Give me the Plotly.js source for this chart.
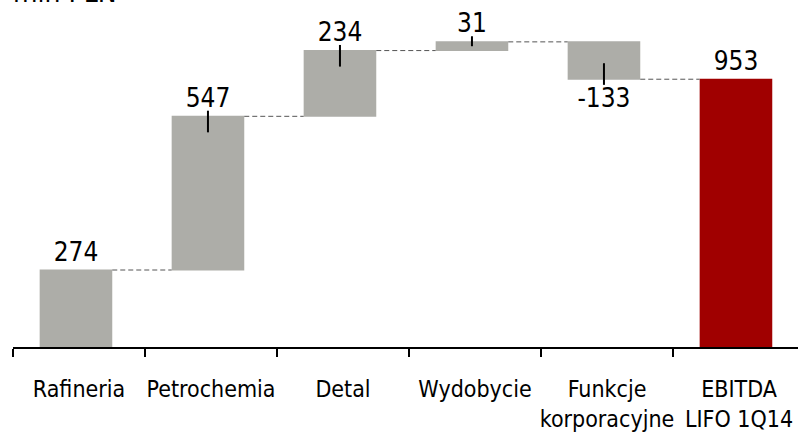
<!DOCTYPE html>
<html>
<head>
<meta charset="utf-8">
<script src="https://cdn.plot.ly/plotly-3.0.1.min.js"></script>
<style>html,body{margin:0;padding:0;background:#fff;}#chart{width:798px;height:434px;}</style>
</head>
<body>
<div id="chart"></div>
<script>
// Data
var categories = ["Rafineria", "Petrochemia", "Detal", "Wydobycie", "Funkcje<br>korporacyjne", "EBITDA<br>LIFO 1Q14"];
var values = [274, 547, 234, 31, -133, 953];
var measures = ["relative", "relative", "relative", "relative", "relative", "total"];
var valueLabels = ["274", "547", "234", "31", "-133", "953"];
var unitTitle = "mln PLN";

var FONT = "'DejaVu Sans Condensed', 'Liberation Sans Narrow', 'Arial Narrow', sans-serif";
var GREY = "#ADADA8";
var RED = "#A00000";
var barWidth = 0.55;
var barShift = -0.023;
var xRange = [-0.5, 5.447];

var cum = [];
var run = 0;
for (var i = 0; i < values.length; i++) {
  if (measures[i] === "total") { cum.push(run); } else { run += values[i]; cum.push(run); }
}
var tx = [], ty = [];
for (var j = 1; j < values.length - 1; j++) {
  var v = values[j], end = cum[j], dir = v >= 0 ? 1 : -1;
  var inside = Math.min(57, Math.abs(v) / 2);
  tx.push(j + barShift, j + barShift, null);
  ty.push(end + dir * 20, end - dir * inside, null);
}

var traces = [
  {
    type: "waterfall",
    x: categories,
    y: values,
    measure: measures,
    text: valueLabels,
    textposition: "outside",
    textfont: {family: FONT, size: 26, color: "#000"},
    cliponaxis: false,
    width: barWidth,
    offset: -barWidth / 2 + barShift,
    increasing: {marker: {color: GREY}},
    decreasing: {marker: {color: GREY}},
    totals: {marker: {color: RED}},
    connector: {mode: "between", line: {color: "#555", width: 1, dash: "5px,3px"}},
    hoverinfo: "none"
  },
  {
    type: "scatter",
    mode: "lines",
    x: tx,
    y: ty,
    xaxis: "x2",
    yaxis: "y",
    line: {color: "#000", width: 2},
    hoverinfo: "none",
    showlegend: false,
    cliponaxis: false
  }
];

var layout = {
  width: 798,
  height: 434,
  margin: {l: 13, r: 0, t: 0, b: 87},
  paper_bgcolor: "#fff",
  plot_bgcolor: "#fff",
  showlegend: false,
  xaxis: {
    type: "category",
    range: xRange,
    showline: true,
    linecolor: "#000",
    linewidth: 2,
    ticks: "outside",
    tickson: "boundaries",
    ticklen: 8,
    tickwidth: 2,
    tickcolor: "#000",
    tickangle: 0,
    ticklabelstandoff: 20,
    tickfont: {family: FONT, size: 23, color: "#000"},
    showgrid: false,
    zeroline: false,
    fixedrange: true
  },
  xaxis2: {
    overlaying: "x",
    anchor: "y",
    range: xRange,
    visible: false,
    showgrid: false,
    zeroline: false
  },
  yaxis: {
    range: [0, 1235],
    visible: false,
    showgrid: false,
    zeroline: false
  },
  annotations: [
    {
      text: unitTitle,
      xref: "paper", yref: "paper",
      x: 0, y: 1,
      xanchor: "left", yanchor: "bottom",
      xshift: -2, yshift: -11,
      showarrow: false,
      font: {family: FONT, size: 28, color: "#000"}
    }
  ]
};

Plotly.newPlot("chart", traces, layout, {staticPlot: true, displayModeBar: false});
</script>
</body>
</html>
